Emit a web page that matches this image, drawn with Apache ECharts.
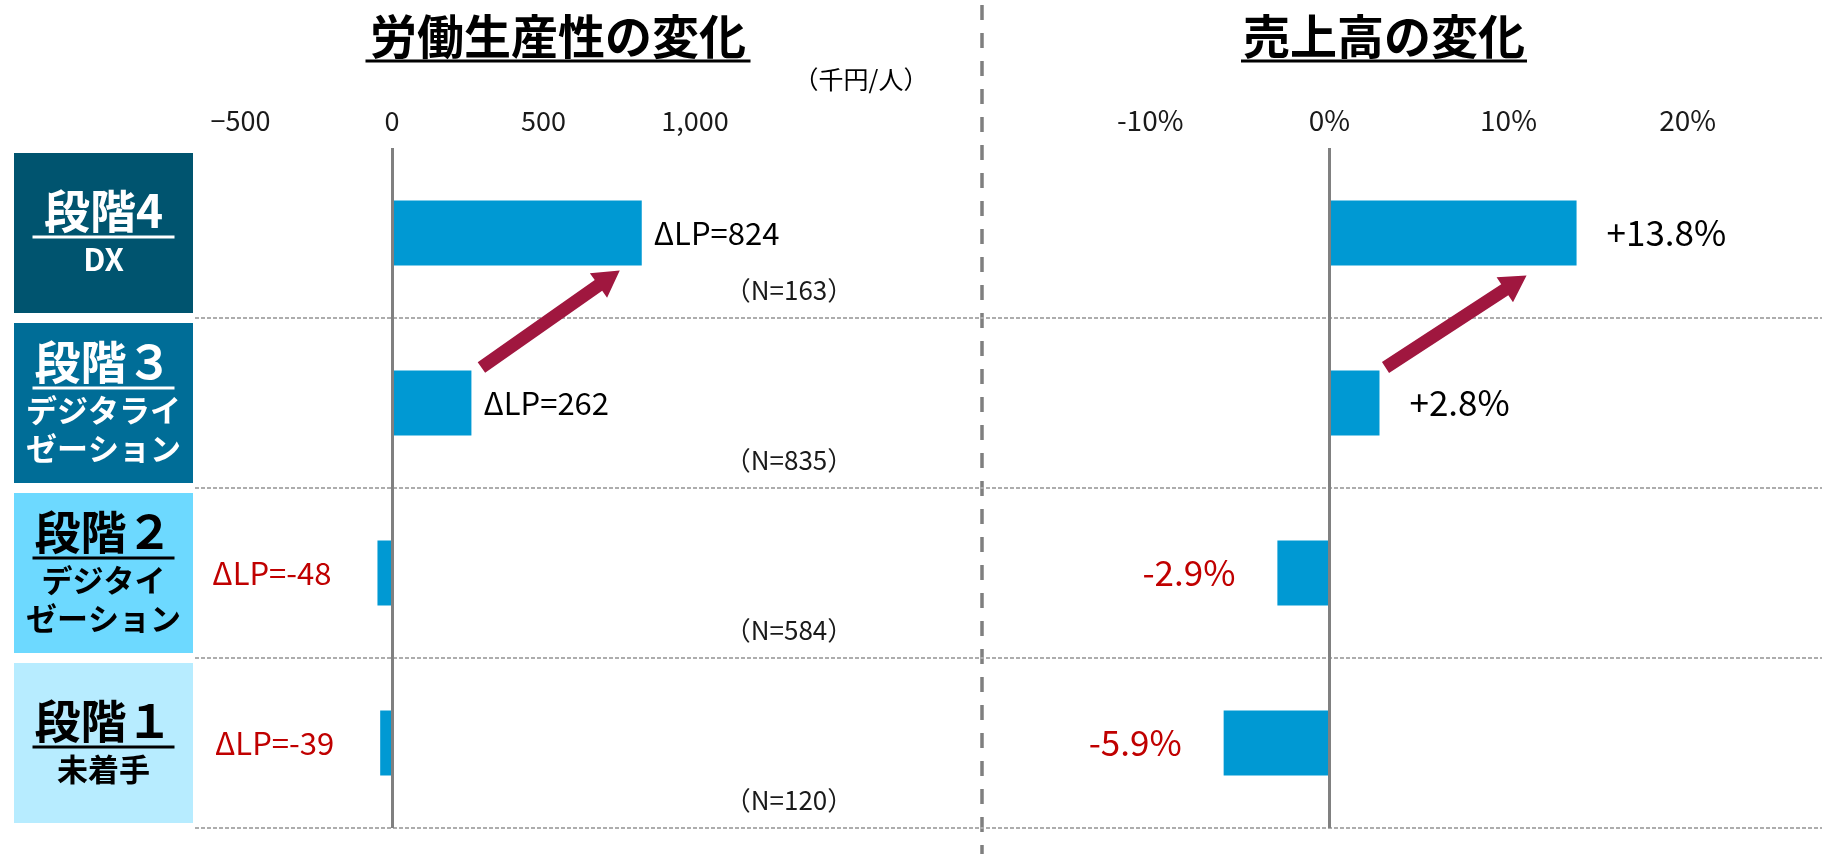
<!DOCTYPE html>
<html><head><meta charset="utf-8">
<script src="https://cdn.jsdelivr.net/npm/echarts@6/dist/echarts.min.js"></script>
<style>html,body{margin:0;padding:0;background:#fff}#c{width:1822px;height:854px}</style>
</head><body><div id="c"></div>
<script>
// ---- data ----
const stageTitles = ['段階4', '段階３', '段階２', '段階１'];
const stageSubtitles = [['DX'], ['デジタライ', 'ゼーション'], ['デジタイ', 'ゼーション'], ['未着手']];
const sampleSizes = ['163', '835', '584', '120'];
const lpChange = [824, 262, -48, -39];
const salesChange = [13.8, 2.8, -2.9, -5.9];
const lpTicks = [-500, 0, 500, 1000];
const lpTickLabels = ['−500', '0', '500', '1,000'];
const salesTicks = [-10, 0, 10, 20];
const salesTickLabels = ['-10%', '0%', '10%', '20%'];
const panelTitles = ['労働生産性の変化', '売上高の変化'];
const lpUnit = '（千円/人）';

// ---- styles ----
const FONT = '"Noto Sans CJK JP", "Noto Sans", sans-serif';
const BAR_W = 65;
const BAR_COLOR = '#0099D3';
const ARROW_COLOR = '#A0173F';
const NEG_COLOR = '#C00000';
const boxColors = ['#00546F', '#006D97', '#6DD9FF', '#B7ECFF'];
const darkBox = [true, true, false, false];

function stageLabel(value, idx) {
  const k = darkBox[idx] ? 'w' : 'b';
  let s = '{t' + k + '|' + stageTitles[idx] + '}\n{u' + k + '| }';
  stageSubtitles[idx].forEach(l => { s += '\n{s' + k + '|' + l + '}'; });
  return s;
}
const rich = {};
['w', 'b'].forEach(k => {
  const c = k === 'w' ? '#ffffff' : '#000000';
  rich['t' + k] = { fontFamily: FONT, fontSize: 46, fontWeight: 'bold', color: c, lineHeight: 46, align: 'center' };
  rich['u' + k] = { width: 142, height: 3, lineHeight: 6, fontSize: 2, backgroundColor: c, align: 'center' };
  rich['s' + k] = { fontFamily: FONT, fontSize: 31, fontWeight: 'bold', color: c, lineHeight: 38, align: 'center' };
});

function arrowRender(sxOff, exOff, syOff, eyOff) {
  return function (params, api) {
    const s = api.coord([api.value(0), api.value(1)]);
    const e = api.coord([api.value(2), api.value(3)]);
    const x0 = s[0] + sxOff, y0 = s[1] - BAR_W / 2 + syOff;
    const x1 = e[0] + exOff, y1 = e[1] + BAR_W / 2 + eyOff;
    const dx = x1 - x0, dy = y1 - y0, L = Math.hypot(dx, dy);
    const ux = dx / L, uy = dy / L, nx = -uy, ny = ux;
    const hw = 6.5, hh = 15, hl = 26;
    const bx = x1 - ux * hl, by = y1 - uy * hl;
    const pts = [
      [x0 + nx * hw, y0 + ny * hw], [bx + nx * hw, by + ny * hw], [bx + nx * hh, by + ny * hh],
      [x1, y1], [bx - nx * hh, by - ny * hh], [bx - nx * hw, by - ny * hw], [x0 - nx * hw, y0 - ny * hw]
    ];
    return { type: 'polygon', shape: { points: pts }, style: { fill: ARROW_COLOR } };
  };
}

const splitDash = { show: true, showMinLine: false, lineStyle: { color: '#ADADAD', width: 2, type: [4, 2] } };
const titleRich = (w) => ({
  t: { fontFamily: FONT, fontSize: 47, fontWeight: 'bold', color: '#000', lineHeight: 44 },
  u: { width: w, height: 3, lineHeight: 6, fontSize: 2, backgroundColor: '#000' }
});

const chart = echarts.init(document.getElementById('c'), null, { renderer: 'canvas' });
chart.setOption({
  animation: false,
  backgroundColor: '#ffffff',
  title: [
    { text: '{t|' + panelTitles[0] + '}\n{u| }', left: 553, top: 9, textAlign: 'center',
      textStyle: { rich: titleRich(385) } },
    { text: '{t|' + panelTitles[1] + '}\n{u| }', left: 1379, top: 9, textAlign: 'center',
      textStyle: { rich: titleRich(286) } },
    { text: lpUnit, left: 856, top: 62, textAlign: 'center',
      textStyle: { fontFamily: FONT, fontSize: 25, fontWeight: 'normal', color: '#000' } }
  ],
  graphic: [
    { type: 'line', shape: { x1: 982, y1: 5, x2: 982, y2: 854 },
      style: { stroke: '#7F7F7F', lineWidth: 3.5, lineDash: [15, 13] }, silent: true }
  ],
  grid: [
    { left: 195, top: 148, width: 785, height: 680, outerBoundsMode: 'none' },
    { left: 980, top: 148, width: 842, height: 680, outerBoundsMode: 'none' }
  ],
  xAxis: [
    { type: 'value', gridIndex: 0, position: 'top', min: -650, max: 1940,
      axisLine: { show: false }, axisTick: { show: false }, splitLine: { show: false },
      axisLabel: { customValues: lpTicks, margin: 14, fontFamily: FONT, fontSize: 27, color: '#1a1a1a',
        formatter: v => lpTickLabels[lpTicks.indexOf(v)] } },
    { type: 'value', gridIndex: 1, position: 'top', min: -19.5, max: 27.5,
      axisLine: { show: false }, axisTick: { show: false }, splitLine: { show: false },
      axisLabel: { customValues: salesTicks, margin: 14, fontFamily: FONT, fontSize: 28, color: '#1a1a1a',
        formatter: v => salesTickLabels[salesTicks.indexOf(v)] } }
  ],
  yAxis: [
    { type: 'category', gridIndex: 0, inverse: true,
      data: stageTitles.map((t, i) => ({ value: t, textStyle: {
        backgroundColor: boxColors[i], width: 179,
        padding: stageSubtitles[i].length > 1 ? [16, 0, 16, 0] : [35, 0, 35, 0] } })),
      axisLine: { show: false }, axisTick: { show: false }, splitLine: splitDash,
      axisLabel: { margin: 2, formatter: stageLabel, rich: rich } },
    { type: 'category', gridIndex: 0, inverse: true, position: 'right', data: sampleSizes,
      axisLine: { show: false }, axisTick: { show: false }, splitLine: { show: false },
      axisLabel: { inside: true, margin: 191, align: 'center',
        formatter: v => '{g| }\n{n|（N=' + v + '）}',
        rich: { g: { lineHeight: 114, fontSize: 2 },
                n: { lineHeight: 30, fontFamily: FONT, fontSize: 26, color: '#1a1a1a' } } } },
    { type: 'category', gridIndex: 1, inverse: true, data: stageTitles,
      axisLine: { show: false }, axisTick: { show: false }, axisLabel: { show: false }, splitLine: splitDash }
  ],
  series: [
    { type: 'bar', xAxisIndex: 0, yAxisIndex: 0, barWidth: BAR_W,
      itemStyle: { color: BAR_COLOR },
      label: { show: true, fontFamily: FONT, fontSize: 31, formatter: p => 'ΔLP=' + p.value },
      data: lpChange.map(v => ({ value: v, label: {
        position: v >= 0 ? 'right' : 'left', distance: v >= 0 ? 12 : 46, color: v >= 0 ? '#000' : NEG_COLOR } })),
      markLine: { silent: true, symbol: ['none', 'none'], label: { show: false },
        lineStyle: { color: '#808080', width: 3, type: 'solid' }, data: [{ xAxis: 0 }] } },
    { type: 'bar', xAxisIndex: 1, yAxisIndex: 2, barWidth: BAR_W,
      itemStyle: { color: BAR_COLOR },
      label: { show: true, fontFamily: FONT, fontSize: 35,
        formatter: p => (p.value > 0 ? '+' : '') + p.value.toFixed(1) + '%' },
      data: salesChange.map(v => ({ value: v, label: {
        position: v >= 0 ? 'right' : 'left', distance: v >= 0 ? 30 : 42, color: v >= 0 ? '#000' : NEG_COLOR } })),
      markLine: { silent: true, symbol: ['none', 'none'], label: { show: false },
        lineStyle: { color: '#808080', width: 3, type: 'solid' }, data: [{ xAxis: 0 }] } },
    { type: 'custom', xAxisIndex: 0, yAxisIndex: 0, renderItem: arrowRender(10, -22, -3, 5),
      data: [[lpChange[1], 1, lpChange[0], 0]], z: 5 },
    { type: 'custom', xAxisIndex: 1, yAxisIndex: 2, renderItem: arrowRender(6, -50, -3, 10),
      data: [[salesChange[1], 1, salesChange[0], 0]], z: 5 }
  ]
});
</script></body></html>
